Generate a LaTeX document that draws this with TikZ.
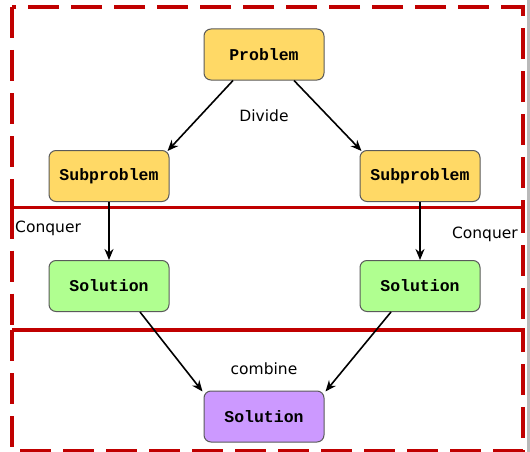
\documentclass[tikz,border=0pt]{standalone}
\usepackage{fontspec}
\usetikzlibrary{arrows.meta,calc}
\newfontfamily\monof{Liberation Mono}
\newfontfamily\sansf{DejaVu Sans}
\definecolor{boxred}{HTML}{C00000}
\definecolor{yel}{HTML}{FFD966}
\definecolor{grn}{HTML}{B0FF90}
\definecolor{pur}{HTML}{CC99FF}
\definecolor{edge}{HTML}{5A5A5A}
\tikzset{
  box/.style={draw=edge, line width=1pt, rounded corners=7pt, minimum width=120pt, minimum height=51pt,
    inner sep=0pt, font=\monof\bfseries\fontsize{16.5}{19}\selectfont},
  zone/.style={draw=boxred, line width=3.5pt, dash pattern=on 31pt off 12pt},
  arr/.style={line width=1.6pt, -{Stealth[length=11pt,width=9pt,inset=3.5pt]}},
  lbl/.style={font=\sansf\fontsize{15.5}{18}\selectfont, inner sep=0pt}
}
\begin{document}
\begin{tikzpicture}[x=1pt,y=-1pt]
\useasboundingbox (0,0) rectangle (530,452);
\fill[white] (0,0) rectangle (530,452);
\fill[gray!55] (527,0) rectangle (530,452);
% zones
\draw[zone] (12,7) rectangle (523,207.5);
\draw[zone] (12,207.5) rectangle (523,330);
\draw[zone] (12,330) rectangle (523,451);
% nodes
\node[box, fill=yel] (p) at (264,54.5) {Problem};
\node[box, fill=yel] (s1) at (109,176) {Subproblem};
\node[box, fill=yel] (s2) at (420,176) {Subproblem};
\node[box, fill=grn] (g1) at (109,286) {Solution};
\node[box, fill=grn] (g2) at (420,286) {Solution};
\node[box, fill=pur] (f) at (264,416.5) {Solution};
% labels
\node[lbl] (ldiv) at (264,116) {Divide};
\node[lbl, anchor=west] (lc1) at (15,228) {Conquer};
\node[lbl, anchor=east] (lc2) at (518,234) {Conquer};
\node[lbl] (lcom) at (264,369) {combine};
% connectors
\draw[arr] ([xshift=-31pt]p.south) -- ([xshift=-2pt,yshift=-1pt]s1.north east);
\draw[arr] ([xshift=30pt]p.south) -- ([xshift=2pt,yshift=-1pt]s2.north west);
\draw[arr] (s1.south) -- (g1.north);
\draw[arr] (s2.south) -- (g2.north);
\draw[arr] ([xshift=31pt]g1.south) -- ([xshift=-1pt,yshift=-1pt]f.north west);
\draw[arr] ([xshift=-29pt]g2.south) -- ([xshift=1pt,yshift=-1pt]f.north east);
\end{tikzpicture}
\end{document}
